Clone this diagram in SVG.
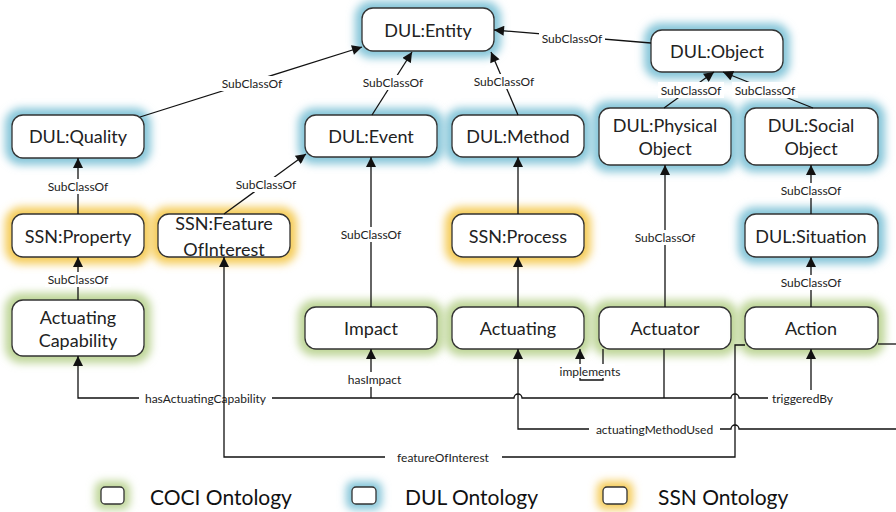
<svg xmlns="http://www.w3.org/2000/svg" width="896" height="512" viewBox="0 0 896 512">
<defs>
<filter id="blur" x="-30%" y="-60%" width="160%" height="220%"><feGaussianBlur stdDeviation="4.5"/></filter>
<marker id="arr" viewBox="0 0 10 10" refX="10" refY="5" markerWidth="11" markerHeight="10" orient="auto" markerUnits="userSpaceOnUse"><path d="M0,0 L10,5 L0,10 z" fill="#111"/></marker>
</defs>
<style>
.box{fill:#fff;stroke:#333;stroke-width:1.3}
.gb{fill:#86c6d9;filter:url(#blur)}
.gy{fill:#f5cc5a;filter:url(#blur)}
.gg{fill:#bed597;filter:url(#blur)}
.nt{font-family:Lato,"Liberation Sans",sans-serif;font-size:18px;fill:#222;text-anchor:middle;dominant-baseline:central}
.ln{fill:none;stroke:#111;stroke-width:1.3}
.la{fill:none;stroke:#111;stroke-width:1.3;marker-end:url(#arr)}
.lt{font-family:Lato,"Liberation Sans",sans-serif;font-size:12px;fill:#222;text-anchor:middle;dominant-baseline:central}
.lbg{fill:#fff}
.lg{font-family:Lato,"Liberation Sans",sans-serif;font-size:21px;fill:#111;dominant-baseline:central}
</style>

<g id="node-entity"><rect class="gb" x="355" y="1" width="146" height="57" rx="16"/><rect class="box" x="362" y="8" width="132" height="43" rx="11"/><text class="nt" x="428" y="30">DUL:Entity</text></g>
<g id="node-object"><rect class="gb" x="644" y="23" width="146" height="56" rx="16"/><rect class="box" x="651" y="30" width="132" height="42" rx="11"/><text class="nt" x="717" y="51">DUL:Object</text></g>
<g id="node-quality"><rect class="gb" x="5" y="108" width="146" height="57" rx="16"/><rect class="box" x="12" y="115" width="132" height="43" rx="11"/><text class="nt" x="78" y="136">DUL:Quality</text></g>
<g id="node-event"><rect class="gb" x="298" y="108" width="146" height="56" rx="16"/><rect class="box" x="305" y="115" width="132" height="42" rx="11"/><text class="nt" x="371" y="136">DUL:Event</text></g>
<g id="node-method"><rect class="gb" x="445" y="108" width="146" height="56" rx="16"/><rect class="box" x="452" y="115" width="132" height="42" rx="11"/><text class="nt" x="518" y="136">DUL:Method</text></g>
<g id="node-physical"><rect class="gb" x="592" y="101" width="146" height="71" rx="16"/><rect class="box" x="599" y="108" width="132" height="57" rx="11"/><text class="nt" x="665" y="125">DUL:Physical</text><text class="nt" x="665" y="148">Object</text></g>
<g id="node-social"><rect class="gb" x="738" y="101" width="147" height="71" rx="16"/><rect class="box" x="745" y="108" width="133" height="57" rx="11"/><text class="nt" x="811" y="125">DUL:Social</text><text class="nt" x="811" y="148">Object</text></g>
<g id="node-property"><rect class="gy" x="5" y="207" width="146" height="57" rx="16"/><rect class="box" x="12" y="214" width="132" height="43" rx="11"/><text class="nt" x="78" y="236">SSN:Property</text></g>
<g id="node-foi"><rect class="gy" x="151" y="207" width="146" height="57" rx="16"/><rect class="box" x="158" y="214" width="132" height="43" rx="11"/><text class="nt" x="224" y="223">SSN:Feature</text><text class="nt" x="224" y="249">OfInterest</text></g>
<g id="node-process"><rect class="gy" x="445" y="207" width="146" height="57" rx="16"/><rect class="box" x="452" y="214" width="132" height="43" rx="11"/><text class="nt" x="518" y="236">SSN:Process</text></g>
<g id="node-situation"><rect class="gb" x="738" y="207" width="147" height="57" rx="16"/><rect class="box" x="745" y="214" width="133" height="43" rx="11"/><text class="nt" x="811" y="236">DUL:Situation</text></g>
<g id="node-capability"><rect class="gg" x="5" y="293" width="146" height="70" rx="16"/><rect class="box" x="12" y="300" width="132" height="56" rx="11"/><text class="nt" x="78" y="317">Actuating</text><text class="nt" x="78" y="340">Capability</text></g>
<g id="node-impact"><rect class="gg" x="298" y="300" width="146" height="56" rx="16"/><rect class="box" x="305" y="307" width="132" height="42" rx="11"/><text class="nt" x="371" y="328">Impact</text></g>
<g id="node-actuating"><rect class="gg" x="445" y="300" width="146" height="56" rx="16"/><rect class="box" x="452" y="307" width="132" height="42" rx="11"/><text class="nt" x="518" y="328">Actuating</text></g>
<g id="node-actuator"><rect class="gg" x="592" y="300" width="146" height="56" rx="16"/><rect class="box" x="599" y="307" width="132" height="42" rx="11"/><text class="nt" x="665" y="328">Actuator</text></g>
<g id="node-action"><rect class="gg" x="738" y="300" width="147" height="56" rx="16"/><rect class="box" x="745" y="307" width="133" height="42" rx="11"/><text class="nt" x="811" y="328">Action</text></g>

<g id="connectors">
<path class="la" d="M140,117 L362,47"/>
<rect class="lbg" x="219" y="76" width="66" height="15"/><text class="lt" x="252" y="83.5">SubClassOf</text>
<path class="la" d="M372,115 L412,52"/>
<rect class="lbg" x="360" y="75" width="66" height="15"/><text class="lt" x="393" y="82.5">SubClassOf</text>
<path class="la" d="M518,115 L491,52"/>
<rect class="lbg" x="471" y="74" width="66" height="15"/><text class="lt" x="504" y="81.5">SubClassOf</text>
<path class="la" d="M651,43 L494,30"/>
<rect class="lbg" x="539" y="31" width="66" height="15"/><text class="lt" x="572" y="38">SubClassOf</text>
<path class="la" d="M664,108 L714,72"/>
<path class="la" d="M813,108 L723,72"/>
<rect class="lbg" x="658" y="82" width="66" height="16"/><text class="lt" x="691" y="90">SubClassOf</text>
<rect class="lbg" x="732" y="82" width="66" height="16"/><text class="lt" x="765" y="90">SubClassOf</text>
<path class="la" d="M78,214 V158"/>
<rect class="lbg" x="45" y="179" width="66" height="15"/><text class="lt" x="78" y="186">SubClassOf</text>
<path class="la" d="M224,214 L306,154"/>
<rect class="lbg" x="233" y="177" width="66" height="15"/><text class="lt" x="266" y="184">SubClassOf</text>
<path class="la" d="M78,300 V257"/>
<rect class="lbg" x="45" y="272" width="66" height="15"/><text class="lt" x="78" y="279">SubClassOf</text>
<path class="la" d="M371,307 V157"/>
<rect class="lbg" x="338" y="227" width="66" height="15"/><text class="lt" x="371" y="234">SubClassOf</text>
<path class="la" d="M518,214 V157"/>
<path class="la" d="M518,307 V257"/>
<path class="la" d="M665,307 V165"/>
<rect class="lbg" x="632" y="230" width="66" height="15"/><text class="lt" x="665" y="237">SubClassOf</text>
<path class="la" d="M811,214 V165"/>
<rect class="lbg" x="778" y="183" width="66" height="15"/><text class="lt" x="811" y="190">SubClassOf</text>
<path class="la" d="M811,307 V257"/>
<rect class="lbg" x="778" y="275" width="66" height="15"/><text class="lt" x="811" y="282">SubClassOf</text>

<path class="ln" d="M664,349 V398"/>
<path class="la" d="M768,398 H739 a4,4 0 0 0 -8,0 H522 a4,4 0 0 0 -8,0 H78 V356"/>
<rect class="lbg" x="139" y="391" width="133" height="15"/><text class="lt" x="205.5" y="398.5">hasActuatingCapability</text>
<path class="la" d="M371,398 V349"/>
<rect class="lbg" x="343" y="372" width="63" height="15"/><text class="lt" x="374.5" y="379">hasImpact</text>
<text class="lt" x="802.5" y="398.5">triggeredBy</text>
<path class="la" d="M811,390 V349"/>
<path class="la" d="M603,349 V380 H580 V349"/>
<rect class="lbg" x="555" y="364" width="70" height="14"/><text class="lt" x="590" y="371">implements</text>
<path class="ln" d="M878,344 H896"/>
<path class="la" d="M896,429 H739 a4,4 0 0 0 -8,0 H518 V349"/>
<rect class="lbg" x="589" y="422" width="131" height="15"/><text class="lt" x="654.5" y="429.5">actuatingMethodUsed</text>
<path class="la" d="M745,345 H735 V457 H224 V257"/>
<rect class="lbg" x="385" y="450" width="117" height="15"/><text class="lt" x="443" y="457.5">featureOfInterest</text>
</g>

<g id="legend">
<rect class="gg" x="95" y="481" width="35" height="29" rx="8"/><rect class="box" x="101" y="487" width="23" height="17" rx="4"/><text class="lg" x="150" y="496">COCI Ontology</text>
<rect class="gb" x="346" y="481" width="36" height="29" rx="8"/><rect class="box" x="352" y="487" width="24" height="17" rx="4"/><text class="lg" x="405" y="496">DUL Ontology</text>
<rect class="gy" x="597" y="481" width="36" height="29" rx="8"/><rect class="box" x="603" y="487" width="24" height="17" rx="4"/><text class="lg" x="658" y="496">SSN Ontology</text>
</g>
</svg>
